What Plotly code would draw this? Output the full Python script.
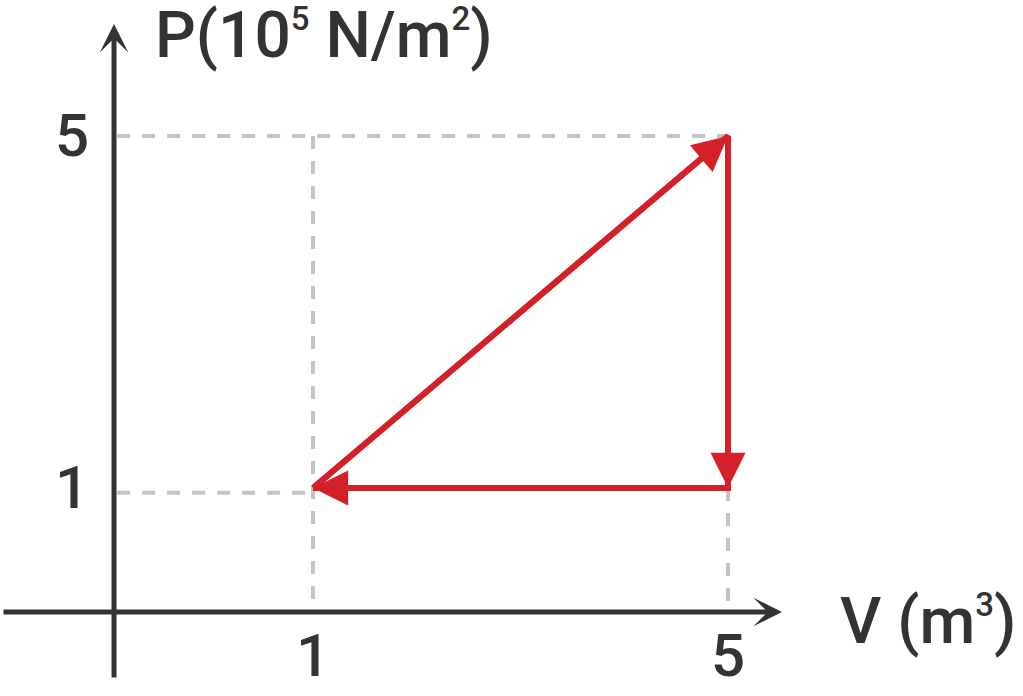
import plotly.graph_objects as go

# ---- data ----
v_ticks = [1, 5]
p_ticks = [1, 5]
v_tick_labels = ["1", "5"]
p_tick_labels = ["1", "5"]
cycle_v = [1, 5, 5, 1]
cycle_p = [1, 5, 1, 1]

SUP = "<sup><span style='font-size:33px'>{}</span></sup>"
x_title = "V (m" + SUP.format("3") + ")"
y_title = "P(10" + SUP.format("5") + " N/m" + SUP.format("2") + ")"

# ---- style ----
RED = "#d42129"
AXC = "#333333"
GUIDE = "#c4c4c4"
FONT = "Roboto, Liberation Sans, Arial, sans-serif"

XMIN, XMAX = -2.017, 7.843
YMIN, YMAX = -1.364, 6.545
Y_AXIS_X = -0.918
X_AXIS_Y = -0.409

fig = go.Figure()

vmin, vmax = min(v_ticks), max(v_ticks)
pmin, pmax = min(p_ticks), max(p_ticks)

guide = dict(color=GUIDE, width=4, dash="13px,12px")
# vertical guides
fig.add_trace(go.Scatter(x=[vmin, vmin], y=[pmax, X_AXIS_Y + 0.13], mode="lines", line=guide, hoverinfo="skip"))
fig.add_trace(go.Scatter(x=[vmax, vmax], y=[pmin, X_AXIS_Y + 0.05], mode="lines", line=guide, hoverinfo="skip"))
# horizontal guides
fig.add_trace(go.Scatter(x=[Y_AXIS_X + 0.03, vmax], y=[pmax, pmax], mode="lines", line=guide, hoverinfo="skip"))
fig.add_trace(go.Scatter(x=[Y_AXIS_X + 0.03, vmin], y=[pmin - 0.055, pmin - 0.055], mode="lines", line=guide, hoverinfo="skip"))

# cycle
fig.add_trace(go.Scatter(x=cycle_v, y=cycle_p, mode="lines",
                         line=dict(color=RED, width=6), hoverinfo="skip"))

anns = []
# arrowheads on the cycle
for i in range(len(cycle_v) - 1):
    anns.append(dict(x=cycle_v[i + 1], y=cycle_p[i + 1], ax=cycle_v[i], ay=cycle_p[i],
                     xref="x", yref="y", axref="x", ayref="y", text="",
                     showarrow=True, arrowhead=2, arrowwidth=6, arrowsize=1.17,
                     arrowcolor=RED, standoff=0, startstandoff=0))

# axes as arrows
anns.append(dict(x=Y_AXIS_X, y=6.273, ax=Y_AXIS_X, ay=-1.17, xref="x", yref="y", axref="x", ayref="y",
                 text="", showarrow=True, arrowhead=3, arrowwidth=5, arrowsize=0.95,
                 arrowcolor=AXC, standoff=0))
anns.append(dict(x=5.52, y=X_AXIS_Y, ax=-1.998, ay=X_AXIS_Y, xref="x", yref="y", axref="x", ayref="y",
                 text="", showarrow=True, arrowhead=3, arrowwidth=5, arrowsize=0.95,
                 arrowcolor=AXC, standoff=0))

tick_font = dict(family=FONT, size=60, color=AXC, weight=500)
for v, lab in zip(v_ticks, v_tick_labels):
    anns.append(dict(x=v, y=-0.909, xref="x", yref="y", text=lab, showarrow=False,
                     xanchor="center", yanchor="middle", font=tick_font))
for p, lab in zip(p_ticks, p_tick_labels):
    anns.append(dict(x=-1.14, y=p, xref="x", yref="y", text=lab, showarrow=False,
                     xanchor="right", yanchor="middle", font=tick_font))

title_font = dict(family=FONT, size=64, color=AXC, weight=500)
anns.append(dict(x=6.06, y=-0.523, xref="x", yref="y", text=x_title, showarrow=False,
                 xanchor="left", yanchor="middle", font=title_font))
anns.append(dict(x=-0.542, y=6.136, xref="x", yref="y", text=y_title, showarrow=False,
                 xanchor="left", yanchor="middle", font=title_font))

fig.update_layout(
    width=1023, height=696,
    margin=dict(l=0, r=0, t=0, b=0),
    paper_bgcolor="white", plot_bgcolor="white",
    showlegend=False,
    xaxis=dict(range=[XMIN, XMAX], visible=False, fixedrange=True),
    yaxis=dict(range=[YMIN, YMAX], visible=False, fixedrange=True),
    annotations=anns,
)

fig.write_html("out.html", config={"displayModeBar": False},
               post_script="document.body.style.margin='0';document.body.style.overflow='hidden';")
